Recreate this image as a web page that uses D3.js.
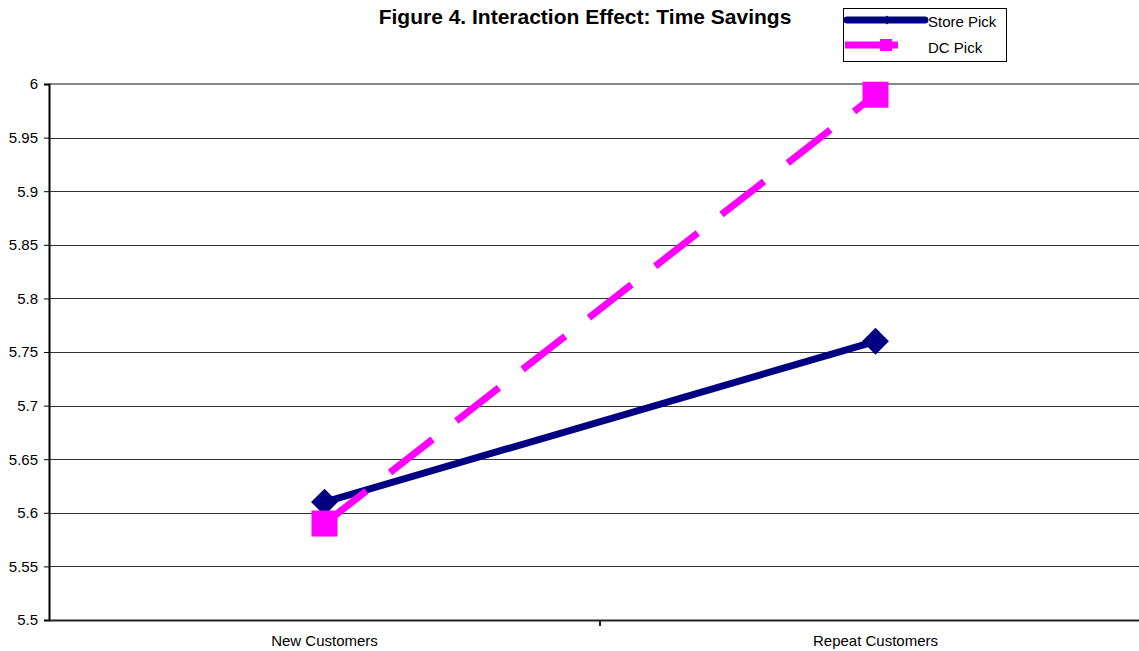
<!DOCTYPE html>
<html>
<head>
<meta charset="utf-8">
<script src="https://cdn.jsdelivr.net/npm/d3@7"></script>
<style>
  html, body { margin: 0; padding: 0; background: #fff; }
  svg { display: block; font-family: "Liberation Sans", Arial, sans-serif; }
</style>
</head>
<body>
<svg id="chart" width="1139" height="651"></svg>
<script>
// Chart data
const categories = ["New Customers", "Repeat Customers"];
const seriesNames = ["Store Pick", "DC Pick"];
const storePick = [5.61, 5.76];
const dcPick = [5.59, 5.99];
const yTicks = [5.5, 5.55, 5.6, 5.65, 5.7, 5.75, 5.8, 5.85, 5.9, 5.95, 6];
const titleText = "Figure 4. Interaction Effect: Time Savings";

const svg = d3.select("#chart");
const plot = { left: 49, right: 1151, top: 84, bottom: 620 };

const x = d3.scaleBand().domain(categories).range([plot.left, plot.right]);
const y = d3.scaleLinear().domain([5.5, 6]).range([plot.bottom, plot.top]);

// Title
svg.append("text")
  .attr("x", 585).attr("y", 24)
  .attr("text-anchor", "middle")
  .attr("font-size", 21).attr("font-weight", "bold")
  .text(titleText);

// Horizontal gridlines
svg.append("g").selectAll("line")
  .data(yTicks.filter(d => d > 5.5 && d < 6))
  .join("line")
  .attr("x1", plot.left).attr("x2", plot.right)
  .attr("y1", d => Math.round(y(d)) + 0.5).attr("y2", d => Math.round(y(d)) + 0.5)
  .attr("stroke", "#333").attr("stroke-width", 1);

// Plot area top border
svg.append("line")
  .attr("x1", plot.left).attr("x2", plot.right)
  .attr("y1", y(6)).attr("y2", y(6))
  .attr("stroke", "#888").attr("stroke-width", 2);

// Y axis
const yAxis = d3.axisLeft(y).tickValues(yTicks).tickSize(5).tickPadding(6)
  .tickFormat(d => d3.format("")(+d.toFixed(2)));
const yg = svg.append("g").attr("transform", `translate(${plot.left},0)`).call(yAxis);
yg.select(".domain").attr("stroke", "#000").attr("stroke-width", 2);
yg.selectAll(".tick line").attr("stroke", "#000");
yg.selectAll(".tick text").attr("font-size", 15).attr("fill", "#000")
  .attr("font-family", "'Liberation Sans', Arial, sans-serif");

// X axis
const xAxis = d3.axisBottom(x).tickSize(0).tickPadding(15);
const xg = svg.append("g").attr("transform", `translate(0,${plot.bottom})`).call(xAxis);
xg.select(".domain").attr("stroke", "#222").attr("stroke-width", 2);
xg.selectAll(".tick text").attr("font-size", 15).attr("fill", "#000")
  .attr("font-family", "'Liberation Sans', Arial, sans-serif");
// Category boundary tick
svg.append("line")
  .attr("x1", x(categories[1])).attr("x2", x(categories[1]))
  .attr("y1", plot.bottom).attr("y2", plot.bottom + 6)
  .attr("stroke", "#222").attr("stroke-width", 2);

const cx = c => x(c) + x.bandwidth() / 2;
const line = d3.line().x(d => cx(d.c)).y(d => y(d.v));

const storeData = categories.map((c, i) => ({ c, v: storePick[i] }));
const dcData = categories.map((c, i) => ({ c, v: dcPick[i] }));

const navy = "#000080";
const magenta = "#FF00FF";

// Store Pick series
svg.append("path").datum(storeData)
  .attr("d", line).attr("fill", "none")
  .attr("stroke", navy).attr("stroke-width", 7);
svg.append("g").selectAll("path").data(storeData).join("path")
  .attr("d", d3.symbol(d3.symbolSquare, 360))
  .attr("transform", d => `translate(${cx(d.c)},${y(d.v)}) rotate(45)`)
  .attr("fill", navy);

// DC Pick series
svg.append("path").datum(dcData)
  .attr("d", line).attr("fill", "none")
  .attr("stroke", magenta).attr("stroke-width", 7)
  .attr("stroke-dasharray", "54,30").attr("stroke-dashoffset", 1);
svg.append("g").selectAll("rect").data(dcData).join("rect")
  .attr("x", d => cx(d.c) - 13).attr("y", d => y(d.v) - 13)
  .attr("width", 26).attr("height", 26)
  .attr("fill", magenta);

// Legend
const lg = svg.append("g");
lg.append("rect").attr("x", 843.5).attr("y", 8.5).attr("width", 163).attr("height", 53)
  .attr("fill", "#fff").attr("stroke", "#000").attr("stroke-width", 1);
lg.append("line").attr("x1", 847).attr("x2", 925).attr("y1", 20).attr("y2", 20)
  .attr("stroke", navy).attr("stroke-width", 7).attr("stroke-linecap", "round");
lg.append("path").attr("d", d3.symbol(d3.symbolSquare, 40))
  .attr("transform", "translate(887,20) rotate(45)").attr("fill", navy);
lg.append("line").attr("x1", 845).attr("x2", 898).attr("y1", 45).attr("y2", 45)
  .attr("stroke", magenta).attr("stroke-width", 7);
lg.append("rect").attr("x", 880).attr("y", 39).attr("width", 12).attr("height", 12)
  .attr("fill", magenta);
lg.append("text").attr("x", 928).attr("y", 27).attr("font-size", 15).text(seriesNames[0]);
lg.append("text").attr("x", 928).attr("y", 53).attr("font-size", 15).text(seriesNames[1]);
</script>
</body>
</html>
